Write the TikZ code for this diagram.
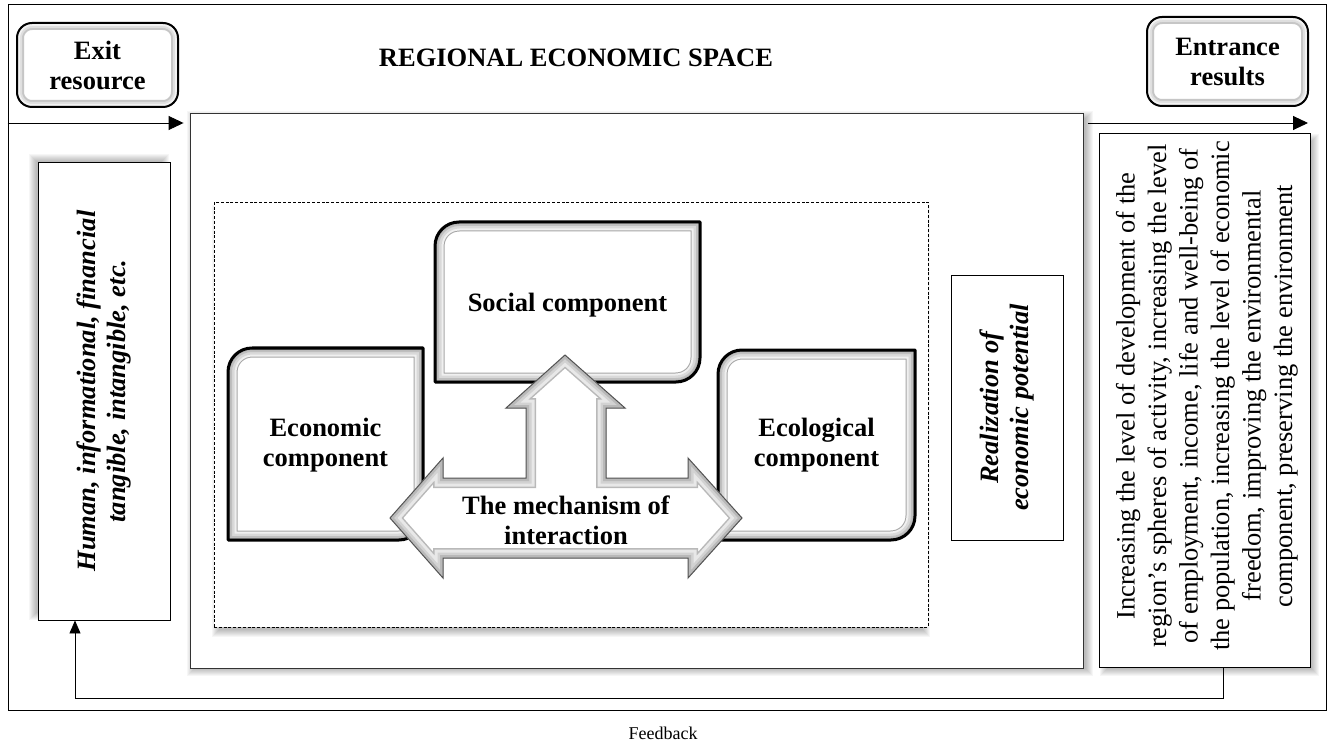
\documentclass[tikz,border=0pt]{standalone}
\usepackage{fontspec}
\setmainfont{Liberation Serif}
\usetikzlibrary{arrows.meta,calc}
\newcommand\bigfont{\fontsize{26.5}{30}\selectfont}
\newcommand\txtfont{\fontsize{26.5}{31.5}\selectfont}
% soft shadow of a rectangle x1 y1 x2 y2 dx dy
\newcommand\softshadow[6]{%
  \foreach \s in {1,...,8}{%
    \fill[black,opacity=0.035] ({#1+#5-\s},{#2+#6-\s}) rectangle ({#3+#5+\s},{#4+#6+\s});}}
% bevelled component shape: rounded top-left and bottom-right corners
\newcommand\cp[4]{(#1,#2) -- (#1,#4-24) arc[start angle=180,end angle=90,radius=24] -- (#3,#4) -- (#3,#2+24) arc[start angle=0,end angle=-90,radius=24] -- cycle}
\newcommand\bevelbox[1]{%
  \fill[white] #1;
  \begin{scope}
    \clip #1;
    \draw[gray!70,line width=19pt] #1;
    \draw[gray!12,line width=17pt] #1;
    \draw[gray!30,line width=13pt] #1;
    \draw[gray!50,line width=8pt] #1;
    \draw[gray!70,line width=4pt] #1;
  \end{scope}
  \draw[black,line width=3pt,line join=round] #1;}
\newcommand\softbox[1]{%
  \fill[white] #1;
  \begin{scope}
    \clip #1;
    \draw[gray!45,line width=14pt] #1;
    \draw[gray!25,line width=10pt] #1;
    \draw[gray!10,line width=6pt] #1;
  \end{scope}
  \draw[black,line width=2pt] #1;}
\newcommand\mecharrow{(390,230) -- (443,290) -- (443,270) -- (526,270) -- (526,340) -- (506,340) -- (565,393) -- (625,340) -- (606,340) -- (606,270) -- (688,270) -- (688,290) -- (742,230) -- (688,170) -- (688,190) -- (443,190) -- (443,170) -- cycle}
\begin{document}
\begin{tikzpicture}[x=1pt,y=1pt,
  bf/.style={font=\bigfont\bfseries, align=center, inner sep=0pt},
  bfi/.style={font=\bigfont\bfseries\itshape, align=center, inner sep=0pt, rotate=90},
  plainbox/.style={draw, fill=white, line width=0.9pt, inner sep=0pt},
  arr/.style={-{Triangle[length=15pt,width=14pt]}, line width=0.9pt},
  fbarr/.style={-{Triangle[length=13pt,width=11pt]}, line width=0.8pt},
]
\useasboundingbox (0,0) rectangle (1327,748);
\fill[white] (0,0) rectangle (1327,748);
% outer frame
\node[draw, line width=0.9pt, minimum width=1318pt, minimum height=706pt, inner sep=0pt] (frame) at (667,391) {};
% shadows
\softshadow{193}{83}{1083}{632}{2}{-3}
\softshadow{42}{132}{166}{582}{-5}{4}
\softshadow{1103}{85}{1306}{611}{5}{-5}
% main box
\node[plainbox, draw=black!80, minimum width=893pt, minimum height=555pt] (main) at (636.5,357.5) {};
% left and right boxes
\node[plainbox, minimum width=132pt, minimum height=458pt] (lb) at (104,357) {};
\node[plainbox, minimum width=211pt, minimum height=534pt] (rb) at (1204.5,348) {};
% dashed box with shadow
\softshadow{220}{124}{922}{540}{0}{-5}
\node[draw, fill=white, dash pattern=on 3pt off 1.8pt, line width=0.9pt, minimum width=714pt, minimum height=425pt, inner sep=0pt] (dash) at (571,333.5) {};
% realization box
\node[plainbox, minimum width=112pt, minimum height=265pt] (real) at (1007,340.5) {};
% exit / entrance boxes
\softbox{[rounded corners=15pt] (17,641) rectangle (178,725)}
\softbox{[rounded corners=15pt] (1147,642) rectangle (1308,731)}
\node[bf] (exit) at (97.5,683) {Exit\\resource};
\node[bf] (entr) at (1227.5,686.5) {Entrance\\results};
\node[bf] (title) at (576,690) {REGIONAL ECONOMIC SPACE};
% arrows at the top
\coordinate (lin) at (frame.west |- 0,625);
\coordinate (rout) at (1308,625);
\draw[arr] (lin) -- (main.west |- lin) [shorten >=6pt];
\draw[arr] ($(main.east |- lin)+(5,0)$) -- (rout);
% components
\bevelbox{\cp{435}{366}{700}{526}}
\bevelbox{\cp{228}{208}{423}{400}}
\bevelbox{\cp{718}{208}{915}{398}}
% mechanism arrow
\fill[white] \mecharrow;
\begin{scope}
  \clip \mecharrow;
  \draw[gray!55,line width=20pt,line join=miter] \mecharrow;
  \draw[gray!18,line width=17pt] \mecharrow;
  \draw[gray!35,line width=11pt] \mecharrow;
  \draw[gray!55,line width=6pt] \mecharrow;
\end{scope}
\draw[gray!65!black,line width=1pt] \mecharrow;
% texts
\node[bf] (soc) at (567.5,443) {Social component};
\node[bf] (eco) at (325.5,303) {Economic\\component};
\node[bf] (ecl) at (816.5,303) {Ecological\\component};
\node[bf] (mech) at (566,228) {The mechanism of\\interaction};
\node[bfi] (hum) at (lb.center) {Human, informational, financial\\tangible, intangible, etc.};
\node[bfi] (realt) at (real.center) {Realization of\\economic potential};
\node[font=\txtfont, align=center, inner sep=0pt, rotate=90] (res) at (1207,352) {Increasing the level of development of the\\region's spheres of activity, increasing the level\\of employment, income, life and well-being of\\the population, increasing the level of economic\\freedom, improving the environmental\\component, preserving the environment};
% feedback loop
\coordinate (fbR) at (1223,50);
\coordinate (fbL) at (75,50);
\draw[fbarr] (rb.south -| fbR) -- (fbR) -- (fbL) -- (lb.south -| fbL);
\node[font=\fontsize{18}{20}\selectfont, inner sep=0pt] (fb) at (663,15) {Feedback};
\end{tikzpicture}
\end{document}
